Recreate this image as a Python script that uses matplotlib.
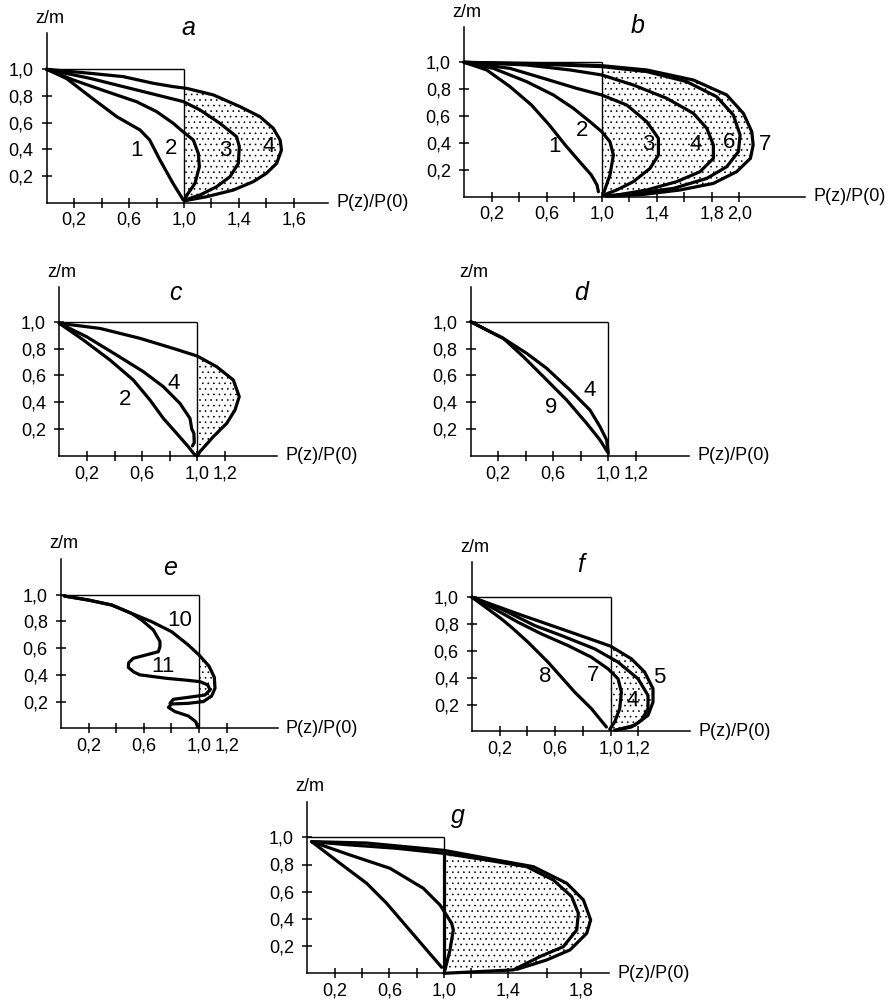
import numpy as np
import matplotlib
matplotlib.use("Agg")
import matplotlib.pyplot as plt

plt.rcParams['font.family'] = ['Liberation Sans', 'DejaVu Sans']
plt.rcParams['hatch.linewidth'] = 0.45

# --- pressure profiles P(z)/P(0) against depth z, given as (P, z) pairs ---
# panel a
a_curve1 = [(0, 1.0), (0.146, 0.93), (0.316, 0.795), (0.51, 0.645), (0.68, 0.545), (0.75, 0.47),
            (0.825, 0.32), (0.92, 0.145), (0.995, 0.02)]
a_curve2 = [(0, 1.0), (0.194, 0.92), (0.437, 0.833), (0.655, 0.757), (0.80, 0.683), (0.922, 0.595),
            (0.995, 0.53), (1.068, 0.47), (1.104, 0.37), (1.112, 0.27), (1.08, 0.145), (1.03, 0.07), (1.0, 0.02)]
a_curve3 = [(0, 1.0), (0.316, 0.932), (0.558, 0.87), (0.80, 0.808), (0.995, 0.758), (1.117, 0.695),
            (1.262, 0.595), (1.383, 0.495), (1.403, 0.42), (1.396, 0.295), (1.335, 0.195), (1.238, 0.12),
            (1.117, 0.058), (1.007, 0.02)]
a_curve4 = [(0, 1.0), (0.316, 0.97), (0.558, 0.945), (0.777, 0.895), (0.922, 0.87), (1.02, 0.857),
            (1.214, 0.808), (1.408, 0.72), (1.553, 0.645), (1.65, 0.558), (1.70, 0.47), (1.71, 0.395),
            (1.675, 0.295), (1.60, 0.22), (1.505, 0.158), (1.36, 0.095), (1.165, 0.045), (1.007, 0.015)]

# panel b
b_curve1 = [(0, 1.0), (0.165, 0.943), (0.334, 0.819), (0.49, 0.682), (0.62, 0.533), (0.735, 0.385),
            (0.84, 0.26), (0.925, 0.161), (0.966, 0.087), (0.976, 0.037)]
b_curve2 = [(0, 1.0), (0.213, 0.955), (0.455, 0.856), (0.649, 0.757), (0.794, 0.658), (0.915, 0.558),
            (1.0, 0.484), (1.06, 0.409), (1.085, 0.31), (1.06, 0.161), (1.017, 0.037)]
b_curve3 = [(0, 1.0), (0.334, 0.955), (0.576, 0.881), (0.818, 0.806), (1.0, 0.757), (1.182, 0.682),
            (1.327, 0.558), (1.412, 0.434), (1.412, 0.31), (1.351, 0.211), (1.23, 0.112), (1.109, 0.05),
            (1.012, 0.012)]
b_curve4 = [(0, 1.0), (0.455, 0.98), (0.77, 0.943), (1.0, 0.906), (1.23, 0.831), (1.472, 0.732),
            (1.666, 0.62), (1.763, 0.509), (1.811, 0.385), (1.811, 0.285), (1.714, 0.186), (1.545, 0.112),
            (1.327, 0.05), (1.109, 0.012)]
b_curve6 = [(0, 1.0), (0.576, 0.985), (1.0, 0.968), (1.327, 0.931), (1.617, 0.856), (1.835, 0.744),
            (1.956, 0.608), (2.005, 0.459), (1.993, 0.335), (1.908, 0.223), (1.763, 0.136), (1.521, 0.062),
            (1.254, 0.025), (1.036, 0.007)]
b_curve7 = [(0, 1.0), (0.576, 0.99), (1.0, 0.975), (1.327, 0.943), (1.666, 0.868), (1.908, 0.757),
            (2.029, 0.62), (2.09, 0.484), (2.10, 0.385), (2.08, 0.285), (1.98, 0.186), (1.811, 0.099),
            (1.569, 0.05), (1.303, 0.017), (1.036, 0.002)]

# panel c
c_curve2 = [(0, 0.988), (0.174, 0.864), (0.367, 0.715), (0.536, 0.566), (0.657, 0.417), (0.754, 0.28),
            (0.85, 0.169), (0.935, 0.069), (0.983, 0.007)]
c_curve4 = [(0, 0.988), (0.198, 0.888), (0.415, 0.752), (0.609, 0.628), (0.754, 0.516), (0.874, 0.392),
            (0.947, 0.28), (0.96, 0.2), (0.975, 0.17), (0.978, 0.10), (0.965, 0.075)]
c_outer = [(0, 0.988), (0.295, 0.95), (0.585, 0.876), (0.826, 0.801), (1.0, 0.744), (1.14, 0.665),
           (1.261, 0.566), (1.304, 0.442), (1.273, 0.342), (1.213, 0.243), (1.116, 0.144), (1.019, 0.032),
           (1.0, 0.0)]

# panel d
d_curve9 = [(0, 1.0), (0.116, 0.938), (0.237, 0.876), (0.383, 0.739), (0.528, 0.591), (0.697, 0.417),
            (0.843, 0.243), (0.94, 0.119), (0.993, 0.032)]
d_curve4 = [(0, 1.0), (0.237, 0.876), (0.407, 0.764), (0.552, 0.653), (0.722, 0.491), (0.867, 0.342),
            (0.94, 0.218), (0.988, 0.119), (1.0, 0.02)]

# panel e
e_curve10 = [(0.024, 0.99), (0.198, 0.96), (0.367, 0.923), (0.512, 0.86), (0.657, 0.798), (0.802, 0.723),
             (0.923, 0.623), (1.0, 0.549), (1.072, 0.466), (1.111, 0.382), (1.116, 0.30), (1.092, 0.242),
             (1.031, 0.2), (0.923, 0.187), (0.802, 0.182), (0.778, 0.157), (0.826, 0.125), (0.923, 0.092),
             (0.976, 0.05), (0.99, 0.012)]
e_curve11 = [(0.024, 0.99), (0.198, 0.96), (0.367, 0.923), (0.512, 0.86), (0.585, 0.81), (0.669, 0.736),
             (0.717, 0.65), (0.717, 0.61), (0.705, 0.573), (0.62, 0.55), (0.524, 0.524), (0.49, 0.49),
             (0.488, 0.455), (0.53, 0.42), (0.572, 0.40), (0.766, 0.374), (0.91, 0.36), (1.007, 0.349),
             (1.063, 0.325), (1.08, 0.287), (1.043, 0.249), (0.923, 0.232), (0.814, 0.217), (0.79, 0.187)]

# panel f
f_curve8 = [(0, 1.0), (0.115, 0.913), (0.212, 0.839), (0.284, 0.777), (0.404, 0.665), (0.548, 0.516),
            (0.74, 0.293), (0.861, 0.169), (0.969, 0.032)]
f_curve7 = [(0, 1.0), (0.163, 0.913), (0.332, 0.814), (0.5, 0.727), (0.692, 0.64), (0.861, 0.553),
            (0.981, 0.466), (1.053, 0.392), (1.077, 0.293), (1.065, 0.169), (1.029, 0.07), (0.993, 0.015)]
f_curve4 = [(0, 1.0), (0.212, 0.913), (0.452, 0.789), (0.644, 0.715), (0.885, 0.615), (1.053, 0.516),
            (1.197, 0.392), (1.269, 0.268), (1.269, 0.169), (1.221, 0.082), (1.149, 0.032), (1.029, 0.007)]
f_curve5 = [(0, 1.0), (0.332, 0.876), (0.644, 0.764), (0.885, 0.677), (1.0, 0.635), (1.149, 0.541),
            (1.245, 0.442), (1.305, 0.318), (1.305, 0.218), (1.269, 0.119), (1.173, 0.045), (1.029, 0.007)]

# panel g
g_inner1 = [(0.032, 0.968), (0.239, 0.809), (0.434, 0.662), (0.58, 0.515), (0.727, 0.343), (0.873, 0.172),
            (0.983, 0.044)]
g_inner2 = [(0.032, 0.968), (0.312, 0.87), (0.605, 0.772), (0.849, 0.625), (0.971, 0.502), (1.056, 0.368),
            (1.068, 0.319), (1.044, 0.172), (1.007, 0.025)]
g_outer1 = [(0.032, 0.968), (0.312, 0.944), (0.654, 0.919), (1.0, 0.882), (1.312, 0.833), (1.605, 0.784),
            (1.8, 0.686), (1.934, 0.564), (1.983, 0.441), (1.971, 0.319), (1.873, 0.196), (1.702, 0.123),
            (1.507, 0.025), (1.0, 0.0)]
g_outer2 = [(0.032, 0.968), (0.434, 0.958), (1.0, 0.904), (1.312, 0.846), (1.654, 0.784), (1.898, 0.662),
            (2.02, 0.539), (2.073, 0.392), (2.044, 0.294), (1.922, 0.172), (1.751, 0.098), (1.532, 0.029)]

# curve number labels: (text, P, z)
a_labels = [("1", 0.655, 0.395), ("2", 0.905, 0.41), ("3", 1.30, 0.395), ("4", 1.614, 0.425)]
b_labels = [("1", 0.66, 0.372), ("2", 0.855, 0.496), ("3", 1.335, 0.39), ("4", 1.685, 0.39),
            ("6", 1.927, 0.404), ("7", 2.186, 0.385)]
c_labels = [("2", 0.476, 0.424), ("4", 0.826, 0.541)]
d_labels = [("4", 0.867, 0.486), ("9", 0.588, 0.362)]
e_labels = [("10", 0.862, 0.81), ("11", 0.74, 0.46)]
f_labels = [("8", 0.529, 0.412), ("7", 0.873, 0.417), ("4", 1.161, 0.231), ("5", 1.353, 0.404)]
g_labels = []

# x tick positions and their printed labels
ticks_a = [0.2, 0.4, 0.6, 0.8, 1.0, 1.2, 1.4, 1.6, 1.8]
ticklabels_a = ["0,2", "", "0,6", "", "1,0", "", "1,4", "", "1,6"]
ticks_b = [0.2, 0.4, 0.6, 0.8, 1.0, 1.2, 1.4, 1.6, 1.8, 2.0]
ticklabels_b = ["0,2", "", "0,6", "", "1,0", "", "1,4", "", "1,8", "2,0"]
ticks_cdef = [0.2, 0.4, 0.6, 0.8, 1.0, 1.2]
ticklabels_cdef = ["0,2", "", "0,6", "", "1,0", "1,2"]
ticks_g = [0.2, 0.4, 0.6, 0.8, 1.0, 1.2, 1.47, 1.75, 2.0]
ticklabels_g = ["0,2", "", "0,6", "", "1,0", "", "1,4", "", "1,8"]
zticks = [0.2, 0.4, 0.6, 0.8, 1.0]
zticklabels = ["0,2", "0,4", "0,6", "0,8", "1,0"]

W, H = 893, 1002
LW = 2.3
FS = 13

fig = plt.figure(figsize=(W / 100, H / 100), dpi=100)


def panel(ox, oy, sx, sy, xend, ztop, ticks, ticklabels):
    """Axes whose data origin sits at pixel (ox, oy) with sx, sy pixels per unit."""
    x0, x1 = -0.08, xend + 0.02
    y0, y1 = -0.08, ztop + 0.02
    left = (ox + x0 * sx) / W
    bottom = 1 - (oy - y0 * sy) / H
    ax = fig.add_axes([left, bottom, (x1 - x0) * sx / W, (y1 - y0) * sy / H])
    ax.set_xlim(x0, x1)
    ax.set_ylim(y0, y1)
    ax.patch.set_visible(False)
    for s in ("top", "right"):
        ax.spines[s].set_visible(False)
    ax.spines["left"].set_position(("data", 0))
    ax.spines["bottom"].set_position(("data", 0))
    ax.spines["left"].set_bounds(0, ztop)
    ax.spines["bottom"].set_bounds(0, xend)
    for s in ("left", "bottom"):
        ax.spines[s].set_linewidth(1.1)
    ax.set_xticks(ticks)
    ax.set_xticklabels(ticklabels)
    ax.set_yticks(zticks)
    ax.set_yticklabels(zticklabels)
    ax.tick_params(direction="inout", length=7, width=1.1, labelsize=FS)
    ax.tick_params(axis="x", pad=3)
    ax.tick_params(axis="y", pad=6)
    # reference square P = 1, z = 1
    ax.hlines(1.0, 0, 1.0, color="k", lw=1.0)
    ax.vlines(1.0, 0, 1.0, color="k", lw=1.0)
    ax.text(0.02, ztop + 0.11, "z/m", ha="center", va="center", fontsize=FS)
    ax.text(xend + 0.06, 0, "P(z)/P(0)", ha="left", va="center", fontsize=FS)
    return ax


def draw(ax, curves, shaded, labels, title, title_xy):
    if shaded is not None:
        p, z = np.array(shaded).T
        ax.fill_betweenx(z, 1.0, np.maximum(p, 1.0), facecolor="none", edgecolor="k",
                         hatch="...", linewidth=0, zorder=1)
    for c in curves:
        p, z = np.array(c).T
        ax.plot(p, z, color="k", lw=LW, solid_joinstyle="round", solid_capstyle="round", zorder=3)
    for t, x, y in labels:
        ax.text(x, y, t, ha="center", va="center", fontsize=16, zorder=4)
    ax.text(title_xy[0], title_xy[1], title, ha="center", va="center", fontsize=18, style="italic")


ax = panel(46.7, 202.7, 137.3, 133.4, 2.05, 1.27, ticks_a, ticklabels_a)
draw(ax, [a_curve1, a_curve2, a_curve3, a_curve4], a_curve4, a_labels, "a", (1.03, 1.31))

ax = panel(464, 196.7, 137.7, 134.4, 2.48, 1.26, ticks_b, ticklabels_b)
draw(ax, [b_curve1, b_curve2, b_curve3, b_curve4, b_curve6, b_curve7], b_curve7, b_labels, "b", (1.26, 1.27))

ax = panel(59.3, 456, 138, 134.3, 1.58, 1.26, ticks_cdef, ticklabels_cdef)
draw(ax, [c_curve2, c_curve4, c_outer], c_outer, c_labels, "c", (0.84, 1.21))

ax = panel(470.7, 456, 137.6, 134.3, 1.59, 1.26, ticks_cdef, ticklabels_cdef)
draw(ax, [d_curve9, d_curve4], None, d_labels, "d", (0.80, 1.21))

ax = panel(61, 728.3, 138, 133.6, 1.57, 1.27, ticks_cdef, ticklabels_cdef)
draw(ax, [e_curve10, e_curve11], e_curve10, e_labels, "e", (0.79, 1.20))

ax = panel(472, 731.3, 138.7, 134, 1.57, 1.26, ticks_cdef, ticklabels_cdef)
draw(ax, [f_curve8, f_curve7, f_curve4, f_curve5], f_curve5, f_labels, "f", (0.78, 1.24))

ax = panel(307.3, 973.3, 136.7, 136, 2.21, 1.26, ticks_g, ticklabels_g)
draw(ax, [g_inner1, g_inner2, g_outer1, g_outer2], g_outer2, g_labels, "g", (1.10, 1.16))
ax.vlines(1.0, 0, 0.88, color="k", lw=LW, zorder=3)

fig.savefig("out.png", dpi=100)
